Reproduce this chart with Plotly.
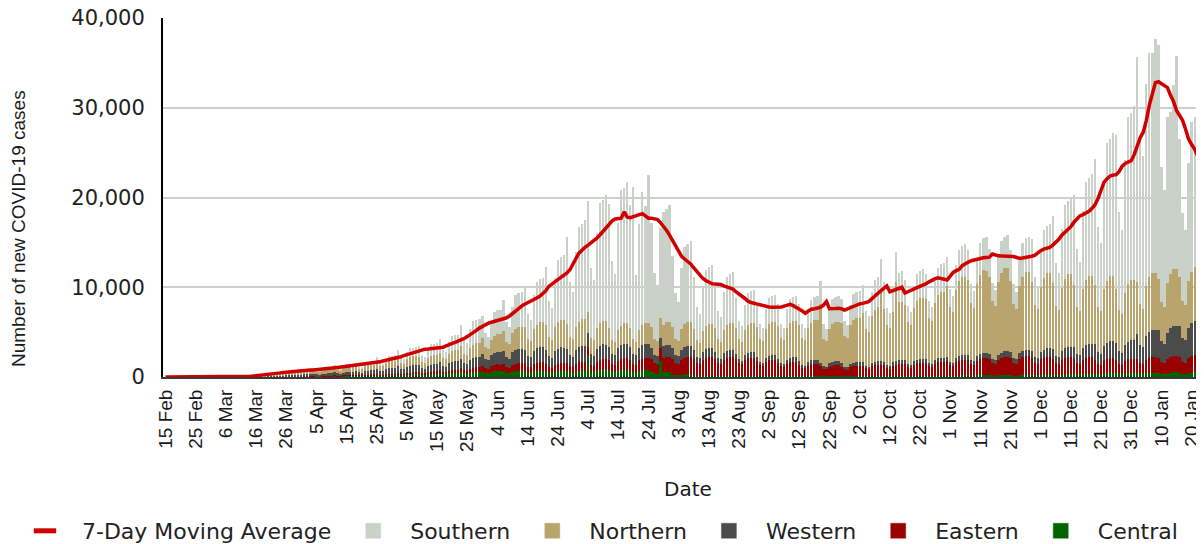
import plotly.graph_objects as go
import pandas as pd

start_date = "2020-02-15"
n_days = 344
dates = pd.date_range(start_date, periods=n_days, freq="D")

tick_labels = ["15 Feb", "25 Feb", "6 Mar", "16 Mar", "26 Mar", "5 Apr", "15 Apr", "25 Apr",
               "5 May", "15 May", "25 May", "4 Jun", "14 Jun", "24 Jun", "4 Jul", "14 Jul",
               "24 Jul", "3 Aug", "13 Aug", "23 Aug", "2 Sep", "12 Sep", "22 Sep", "2 Oct",
               "12 Oct", "22 Oct", "1 Nov", "11 Nov", "21 Nov", "1 Dec", "11 Dec", "21 Dec",
               "31 Dec", "10 Jan", "20 Jan"]
tick_dates = list(dates[::10][:len(tick_labels)])

central = [
    0, 0, 0, 0, 0, 0, 0,
    0, 0, 0, 0, 0, 0, 0,
    0, 0, 0, 0, 0, 0, 1,
    0, 1, 1, 2, 2, 3, 4,
    5, 6, 8, 10, 12, 14, 15,
    25, 30, 35, 40, 45, 50, 55,
    55, 50, 50, 60, 65, 70, 70,
    85, 65, 60, 80, 90, 90, 90,
    125, 95, 90, 120, 130, 140, 140,
    170, 130, 120, 160, 175, 185, 180,
    230, 175, 165, 220, 240, 255, 255,
    315, 240, 225, 300, 330, 345, 345,
    345, 265, 250, 330, 365, 380, 375,
    420, 320, 300, 400, 440, 460, 460,
    525, 400, 375, 500, 550, 575, 575,
    590, 450, 420, 560, 615, 645, 640,
    630, 480, 450, 600, 660, 690, 690,
    640, 470, 455, 610, 650, 700, 680,
    590, 450, 420, 560, 615, 645, 640,
    630, 480, 450, 600, 660, 690, 690,
    2300, 560, 525, 700, 770, 805, 805,
    735, 560, 525, 700, 770, 805, 805,
    680, 520, 490, 650, 715, 750, 745,
    525, 400, 375, 1800, 550, 575, 575,
    260, 200, 190, 250, 275, 290, 285,
    125, 95, 90, 120, 130, 140, 140,
    105, 80, 75, 100, 110, 115, 115,
    95, 72, 68, 90, 100, 103, 102,
    84, 64, 60, 80, 88, 92, 92,
    84, 64, 60, 80, 88, 92, 92,
    84, 64, 60, 80, 88, 92, 92,
    84, 64, 60, 80, 88, 92, 92,
    95, 72, 68, 90, 100, 103, 102,
    105, 80, 75, 100, 110, 115, 115,
    105, 80, 75, 100, 110, 115, 115,
    125, 95, 90, 120, 130, 140, 140,
    135, 105, 100, 130, 145, 150, 150,
    160, 120, 112, 150, 165, 172, 171,
    180, 135, 128, 170, 187, 195, 195,
    190, 145, 135, 180, 198, 207, 205,
    210, 160, 150, 200, 220, 230, 230,
    230, 176, 165, 220, 242, 253, 254,
    260, 200, 190, 250, 275, 290, 285,
    315, 240, 225, 300, 330, 345, 345,
    370, 280, 262, 350, 385, 402, 401,
    400, 305, 285, 380, 418, 437, 437,
    440, 336, 315, 420, 462, 483, 483,
    470, 360, 340, 450, 495, 518, 517,
    470, 360, 340, 450, 495, 518, 517,
    480,
]

eastern = [
    0, 0, 0, 0, 0, 0, 0,
    0, 0, 0, 0, 0, 0, 0,
    0, 0, 0, 0, 0, 0, 0,
    0, 0, 1, 1, 2, 3, 5,
    6, 8, 10, 15, 18, 22, 26,
    30, 25, 30, 35, 40, 40, 45,
    45, 35, 35, 45, 50, 52, 53,
    52, 40, 38, 50, 55, 57, 58,
    74, 56, 52, 70, 77, 80, 81,
    95, 72, 68, 90, 100, 103, 102,
    115, 88, 82, 110, 121, 127, 127,
    160, 120, 112, 150, 165, 172, 171,
    230, 175, 165, 220, 242, 253, 255,
    315, 240, 225, 300, 330, 345, 345,
    440, 335, 315, 420, 460, 485, 485,
    680, 520, 490, 650, 715, 750, 745,
    790, 600, 560, 750, 825, 865, 860,
    895, 680, 640, 850, 935, 980, 970,
    840, 640, 600, 800, 880, 920, 920,
    945, 720, 675, 900, 990, 1035, 1035,
    1050, 800, 750, 1000, 1100, 1150, 1150,
    1155, 880, 825, 1100, 1210, 1265, 1265,
    1260, 960, 900, 1200, 1320, 1380, 1380,
    1470, 1120, 1050, 1400, 1540, 1610, 1610,
    1785, 1360, 1275, 1700, 1870, 1955, 1955,
    1890, 1440, 1350, 1800, 1980, 2070, 2070,
    1940, 1480, 1390, 1850, 2035, 2130, 2125,
    1890, 1440, 1350, 1800, 1980, 2070, 2070,
    1680, 1280, 1200, 1600, 1760, 1840, 1840,
    1470, 1120, 1050, 1400, 1540, 1610, 1610,
    1260, 960, 900, 1200, 1320, 1380, 1380,
    1100, 840, 790, 1050, 1155, 1210, 1205,
    1050, 800, 750, 1000, 1100, 1150, 1150,
    1155, 880, 825, 1100, 1210, 1265, 1265,
    1210, 920, 860, 1150, 1265, 1320, 1325,
    1310, 1000, 940, 1250, 1375, 1440, 1435,
    1420, 1080, 1010, 1350, 1485, 1550, 1555,
    1575, 1200, 1125, 1500, 1650, 1725, 1725,
    1730, 1320, 1240, 1650, 1815, 1900, 1895,
    1840, 1400, 1310, 1750, 1925, 2010, 2015,
    1890, 1440, 1350, 1800, 1980, 2070, 2070,
    1840, 1400, 1310, 1750, 1925, 2010, 2015,
    1785, 1360, 1275, 1700, 1870, 1955, 1955,
    1680, 1280, 1200, 1600, 1760, 1840, 1840,
    1575, 1200, 1125, 1500, 1650, 1725, 1725,
    1470, 1120, 1050, 1400, 1540, 1610, 1610,
    1575, 1200, 1125, 1500, 1650, 1725, 1725,
    1680, 1280, 1200, 1600, 1760, 1840, 1840,
    1785, 1360, 1275, 1700, 1870, 1955, 1955,
    1800,
]

western = [
    0, 0, 0, 0, 0, 0, 0,
    0, 0, 0, 0, 0, 1, 0,
    0, 0, 1, 0, 1, 1, 1,
    2, 3, 4, 6, 9, 13, 18,
    25, 30, 35, 45, 50, 60, 70,
    80, 85, 95, 110, 125, 135, 140,
    150, 130, 130, 160, 175, 180, 195,
    230, 180, 165, 220, 240, 250, 255,
    315, 240, 225, 300, 330, 345, 345,
    420, 320, 300, 400, 440, 460, 460,
    580, 440, 410, 550, 605, 630, 635,
    735, 560, 525, 700, 770, 805, 805,
    735, 560, 525, 700, 770, 805, 805,
    890, 680, 640, 850, 935, 980, 975,
    1050, 800, 750, 1000, 1100, 1150, 1150,
    1310, 1000, 940, 1250, 1375, 1440, 1435,
    1470, 1120, 1050, 1400, 1540, 1610, 1610,
    1520, 1160, 1090, 1450, 1595, 1670, 1665,
    1575, 1200, 1125, 1500, 1650, 1725, 1725,
    1575, 1200, 1125, 1500, 1650, 1725, 1725,
    1520, 1160, 1090, 1450, 1595, 1670, 1665,
    1470, 1120, 1050, 1400, 1540, 1610, 1610,
    1420, 1080, 1010, 1350, 1485, 1550, 1550,
    1260, 960, 900, 1200, 1320, 1380, 1380,
    1155, 880, 825, 1100, 1210, 1265, 1265,
    945, 720, 675, 900, 990, 1035, 1035,
    735, 560, 525, 700, 770, 805, 805,
    580, 440, 410, 550, 605, 630, 635,
    470, 360, 340, 450, 495, 520, 515,
    470, 360, 340, 450, 495, 520, 515,
    420, 320, 300, 400, 440, 460, 460,
    420, 320, 300, 400, 440, 460, 460,
    370, 280, 260, 350, 385, 400, 405,
    370, 280, 260, 350, 385, 400, 405,
    400, 305, 285, 380, 420, 435, 435,
    420, 320, 300, 400, 440, 460, 460,
    420, 320, 300, 400, 440, 460, 460,
    470, 360, 340, 450, 495, 520, 515,
    525, 400, 375, 500, 550, 575, 575,
    580, 440, 410, 550, 605, 630, 635,
    680, 520, 490, 650, 715, 750, 745,
    840, 640, 600, 800, 880, 920, 920,
    1050, 800, 750, 1000, 1100, 1150, 1150,
    1365, 1040, 975, 1300, 1430, 1495, 1495,
    1680, 1280, 1200, 1600, 1760, 1840, 1840,
    1890, 1440, 1350, 1800, 1980, 2070, 2070,
    2730, 2080, 1950, 2600, 2860, 2990, 2990,
    3045, 2320, 2175, 2900, 3190, 3335, 3335,
    3465, 2640, 2475, 3300, 3630, 3795, 3795,
    3600,
]

northern = [
    0, 0, 0, 0, 0, 0, 0,
    0, 0, 0, 1, 0, 0, 0,
    1, 1, 2, 0, 2, 3, 5,
    8, 12, 15, 22, 35, 50, 68,
    70, 75, 90, 105, 120, 150, 160,
    170, 160, 175, 200, 210, 200, 215,
    280, 250, 250, 300, 330, 340, 350,
    410, 330, 300, 400, 440, 460, 460,
    525, 400, 375, 500, 550, 575, 575,
    580, 440, 410, 550, 605, 630, 635,
    735, 560, 525, 700, 770, 805, 805,
    890, 680, 640, 850, 935, 980, 975,
    945, 720, 675, 900, 990, 1035, 1035,
    1100, 840, 790, 1050, 1155, 1210, 1205,
    1420, 1080, 1010, 1350, 1485, 1550, 1555,
    1785, 1360, 1275, 1700, 1870, 1955, 1955,
    2205, 1680, 1575, 2100, 2310, 2415, 2415,
    2520, 1920, 1800, 2400, 2640, 2760, 2760,
    2835, 2160, 2025, 2700, 2970, 3105, 3105,
    2730, 2080, 1950, 2600, 2860, 2990, 2990,
    2415, 1840, 1725, 2300, 2530, 2645, 2645,
    2100, 1600, 1500, 2000, 2200, 2300, 2300,
    2150, 1640, 1540, 2050, 2255, 2360, 2360,
    2310, 1760, 1650, 2200, 2420, 2530, 2530,
    2415, 1840, 1725, 2300, 2530, 2645, 2645,
    2415, 1840, 1725, 2300, 2530, 2645, 2645,
    2730, 2080, 1950, 2600, 2860, 2990, 2990,
    2940, 2240, 2100, 2800, 3080, 3220, 3220,
    3360, 2560, 2400, 3200, 3520, 3680, 3680,
    3675, 2800, 2625, 3500, 3850, 4025, 4025,
    3990, 3040, 2850, 3800, 4180, 4370, 4370,
    6500, 3040, 2850, 3800, 4180, 4370, 4370,
    4515, 3440, 3225, 4300, 4730, 4945, 4945,
    5460, 4160, 3900, 5200, 5720, 5980, 7800,
    5880, 4480, 4200, 5600, 8800, 6440, 6440,
    6195, 4720, 4425, 5900, 6490, 6785, 6785,
    6720, 5120, 4800, 6400, 7040, 7360, 7360,
    7980, 6080, 5700, 7600, 8360, 8740, 8740,
    8400, 6400, 6000, 8000, 8800, 9200, 9200,
    8505, 6480, 6075, 8100, 8910, 9315, 9315,
    7875, 6000, 5625, 7500, 8250, 8625, 8625,
    7665, 5840, 5475, 7300, 8030, 8395, 8395,
    7350, 5600, 5250, 7000, 7700, 8050, 8050,
    6930, 5280, 4950, 6600, 7260, 7590, 7590,
    6615, 5040, 4725, 6300, 6930, 7245, 7245,
    6090, 4640, 4350, 5800, 6380, 6670, 6670,
    5880, 4480, 4200, 5600, 6160, 6440, 6440,
    5775, 4400, 4125, 5500, 6050, 6325, 6325,
    5460, 4160, 3900, 5200, 5720, 5980, 5980,
    5800,
]

southern = [
    0, 0, 0, 0, 0, 0, 0,
    0, 0, 0, 0, 0, 0, 0,
    0, 0, 0, 0, 0, 1, 1,
    1, 2, 3, 6, 10, 30, 40,
    30, 40, 50, 60, 80, 110, 120,
    150, 110, 120, 180, 200, 195, 200,
    200, 130, 110, 180, 230, 220, 225,
    220, 140, 120, 190, 240, 240, 250,
    285, 180, 155, 245, 310, 315, 330,
    340, 220, 185, 295, 370, 370, 390,
    530, 335, 290, 455, 575, 575, 600,
    900, 575, 490, 780, 985, 985, 1025,
    1155, 735, 630, 1000, 1260, 1260, 1310,
    1540, 980, 840, 1330, 1680, 1680, 1750,
    2400, 1525, 1310, 2070, 2615, 2615, 2725,
    2410, 1535, 1315, 2080, 2630, 2630, 2730,
    3465, 2205, 1890, 2990, 3780, 3780, 3940,
    4400, 2800, 2400, 3800, 4800, 4800, 5000,
    6370, 4050, 3475, 5500, 6950, 6950, 7235,
    9680, 6160, 5280, 8360, 10560, 10560, 11000,
    12320, 7840, 6720, 10640, 13440, 13440, 14000,
    13860, 8820, 7560, 11970, 15120, 15120, 15750,
    13640, 17000, 7440, 11780, 14880, 13000, 16500,
    11550, 7350, 6300, 9975, 12600, 12600, 13125,
    7920, 5040, 4320, 6840, 8640, 8640, 9000,
    5810, 3700, 3170, 5015, 6335, 6335, 6600,
    4950, 3150, 2700, 4275, 5400, 5400, 5625,
    3255, 2070, 1775, 2810, 3550, 3550, 3700,
    2660, 1695, 1450, 2300, 2905, 2905, 3025,
    2440, 1555, 1330, 2110, 2665, 2665, 2775,
    2390, 1520, 1300, 2060, 2605, 2605, 2710,
    2600, 1625, 1390, 2205, 2785, 2785, 2900,
    2650, 1690, 1445, 2290, 2890, 2890, 3010,
    3135, 1995, 1710, 2710, 3420, 3420, 3560,
    3045, 1940, 1660, 2630, 3325, 3325, 3460,
    2785, 1770, 1520, 2405, 3035, 3035, 3160,
    2830, 1800, 1540, 2440, 3085, 3085, 3210,
    3190, 2030, 1740, 2755, 3480, 3480, 3625,
    3280, 2085, 1790, 2830, 3575, 3575, 3725,
    3190, 2030, 1740, 2755, 3480, 3480, 3625,
    3500, 2225, 1910, 3020, 3815, 3815, 3975,
    4820, 3065, 2630, 4160, 5255, 5255, 5475,
    7535, 4795, 4110, 6510, 8220, 8220, 8560,
    10010, 6370, 5460, 8645, 10920, 10920, 11375,
    14025, 8925, 7650, 12110, 15300, 15300, 15940,
    17070, 10865, 9310, 14745, 18625, 18625, 19400,
    25000, 18500, 17000, 22500, 25000, 24500, 26000,
    26000, 15000, 13000, 18500, 18000, 20500, 23800,
    15345, 9765, 8370, 13250, 16740, 16740, 17435,
    12000,
]

ma7 = [
    0, 0, 0, 0, 0, 0, 0,
    0, 0, 0, 0, 0, 0, 0,
    1, 1, 1, 1, 2, 3, 4,
    4, 6, 9, 14, 21, 35, 55,
    80, 105, 135, 170, 210, 250, 290,
    330, 370, 410, 460, 510, 550, 580,
    620, 650, 680, 710, 740, 760, 780,
    790, 810, 830, 860, 900, 940, 980,
    1020, 1070, 1110, 1150, 1190, 1230, 1260,
    1290, 1330, 1370, 1410, 1450, 1490, 1530,
    1600, 1690, 1780, 1850, 1930, 2000, 2080,
    2160, 2260, 2380, 2490, 2600, 2720, 2820,
    2950, 3050, 3100, 3130, 3150, 3170, 3190,
    3220, 3320, 3480, 3650, 3750, 3850, 3970,
    4100, 4300, 4500, 4700, 4950, 5200, 5450,
    5650, 5850, 6000, 6100, 6200, 6280, 6350,
    6450, 6600, 6800, 7100, 7400, 7700, 7900,
    8100, 8250, 8400, 8600, 8800, 9000, 9250,
    9600, 10100, 10350, 10600, 10850, 11050, 11300,
    11600, 11950, 12500, 13200, 13800, 14150, 14450,
    14700, 14950, 15200, 15500, 15850, 16250, 16650,
    17000, 17400, 17600, 17700, 17700, 18400, 17800,
    17750, 17900, 17950, 18100, 18200, 17950, 17700,
    17700, 17650, 17550, 17200, 16800, 16350, 15800,
    15200, 14600, 14050, 13450, 13150, 12900, 12600,
    12200, 11750, 11350, 11000, 10750, 10550, 10400,
    10350, 10350, 10300, 10150, 10050, 9950, 9800,
    9500, 9300, 9000, 8750, 8450, 8300, 8200,
    8100, 8000, 7950, 7850, 7800, 7780, 7760,
    7760, 7800, 7900, 8000, 8100, 7950, 7700,
    7550, 7350, 7100, 7350, 7550, 7600, 7650,
    7750, 8000, 8400, 7600, 7580, 7620, 7650,
    7600, 7450, 7600, 7800, 7950, 8050, 8150,
    8200, 8280, 8400, 8700, 9050, 9300, 9600,
    9900, 10150, 9500, 9600, 9700, 9850, 10000,
    9350, 9500, 9650, 9750, 9850, 10000, 10150,
    10400, 10600, 10800, 10950, 11050, 11000, 10900,
    10800, 11300, 11650, 11850, 12000, 12400, 12650,
    12800, 12950, 13050, 13150, 13220, 13280, 13320,
    13350, 13700, 13550, 13500, 13480, 13450, 13480,
    13480, 13420, 13320, 13220, 13250, 13300, 13330,
    13450, 13550, 13850, 14070, 14250, 14350, 14450,
    14700, 15000, 15350, 15800, 16150, 16450, 16750,
    17250, 17650, 17950, 18100, 18250, 18450, 18800,
    19200, 19900, 20900, 21700, 22100, 22400, 22500,
    22550, 22900, 23500, 23800, 23950, 24100, 24800,
    25900, 26700, 27300, 28600, 30300, 31700, 32800,
    32900, 32700, 32550, 32250, 31400, 30700, 29700,
    29100, 28600, 27600, 26500, 25900, 25400, 24600,
    23400,
]

series = [
    ("Central", central, "#006400"),
    ("Eastern", eastern, "#990000"),
    ("Western", western, "#4b4b4b"),
    ("Northern", northern, "#b8a46c"),
    ("Southern", southern, "#c9d1c9"),
]
ma_color = "#d00000"

fig = go.Figure()
for name, vals, col in series:
    fig.add_trace(go.Bar(x=dates, y=vals, name=name, marker=dict(color=col, line=dict(width=0)),
                         showlegend=False))
fig.add_trace(go.Scatter(x=dates, y=ma7, mode="lines", name="7-Day Moving Average",
                         line=dict(color=ma_color, width=3.5), showlegend=False))

# legend entries
fig.add_trace(go.Scatter(x=[None], y=[None], mode="markers", name="7-Day Moving Average",
                         marker=dict(symbol="line-ew", size=16, color=ma_color,
                                     line=dict(color=ma_color, width=5))))
for name, vals, col in reversed(series):
    fig.add_trace(go.Scatter(x=[None], y=[None], mode="markers", name=name,
                             marker=dict(symbol="square", size=16, color=col,
                                         line=dict(color="rgba(255,255,255,0.6)", width=1))))

# page body has an 8px margin, so the figure is sized/offset to compensate
fig.update_layout(
    width=1196, height=536,
    margin=dict(l=155, r=0, t=10, b=167, autoexpand=False),
    barmode="stack", bargap=0.25,
    plot_bgcolor="white", paper_bgcolor="white",
    showlegend=True,
    legend=dict(orientation="h", xref="paper", yref="paper",
                x=-0.1489, xanchor="left", y=-0.429, yanchor="middle",
                itemwidth=64, traceorder="normal",
                font=dict(family="DejaVu Sans", size=22, color="#222222"),
                bgcolor="rgba(0,0,0,0)"),
    xaxis=dict(type="date", range=["2020-02-14 04:00", "2021-01-24 02:30"],
               tickmode="array", tickvals=tick_dates, ticktext=tick_labels,
               tickangle=-90, ticks="", ticklabelstandoff=3, ticklabeloverflow="allow",
               tickfont=dict(family="Liberation Sans", size=19, color="#1a1a1a"),
               showgrid=False, showline=True, linecolor="#3a3a3a", linewidth=2,
               zeroline=False),
    yaxis=dict(range=[0, 40000], tickmode="array",
               tickvals=[0, 10000, 20000, 30000, 40000], tickformat=",",
               ticks="", ticklabelstandoff=12, ticklabeloverflow="allow",
               tickfont=dict(family="DejaVu Sans", size=21, color="#222222"),
               showgrid=True, gridcolor="#cfcfcf", gridwidth=1.5,
               showline=True, linecolor="#000000", linewidth=2, zeroline=False),
    annotations=[
        dict(text="Number of new COVID-19 cases", xref="paper", yref="paper",
             x=-0.1393, y=0.415, xanchor="center", yanchor="middle", textangle=-90,
             showarrow=False, font=dict(family="Liberation Sans", size=19, color="#1a1a1a")),
        dict(text="Date", xref="paper", yref="paper", x=0.504, y=-0.312,
             xanchor="center", yanchor="middle", showarrow=False,
             font=dict(family="DejaVu Sans", size=20, color="#1a1a1a")),
    ],
)

fig.write_html("out.html")
